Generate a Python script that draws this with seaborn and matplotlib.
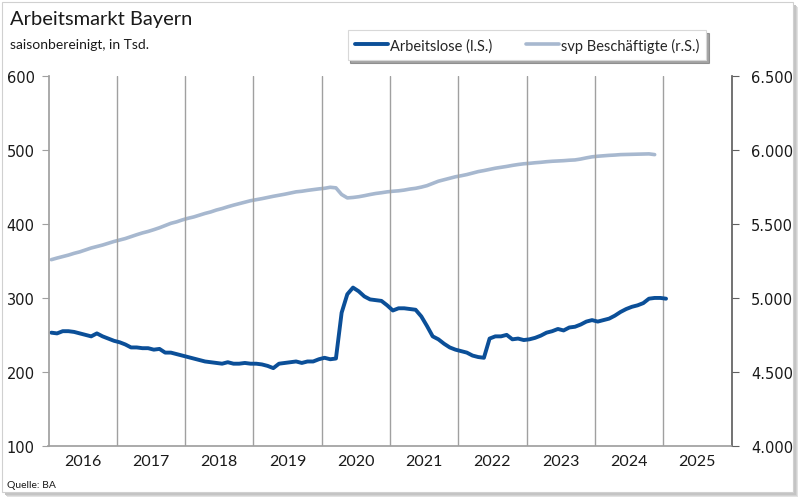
import matplotlib
matplotlib.use('Agg')
import matplotlib.pyplot as plt
import matplotlib.patches as mpatches
from matplotlib.lines import Line2D
from matplotlib.ticker import FuncFormatter, FixedLocator, NullFormatter
import seaborn as sns
import numpy as np
import pandas as pd

# monthly values, Jan 2016 onwards (in Tsd.)
arbeitslose = [
    253, 252, 255, 255, 254, 252, 250, 248, 252, 248, 245, 242,   # 2016
    240, 237, 233, 233, 232, 232, 230, 231, 226, 226, 224, 222,   # 2017
    220, 218, 216, 214, 213, 212, 211, 213, 211, 211, 212, 211,   # 2018
    211, 210, 208, 205, 211, 212, 213, 214, 212, 214, 214, 217,   # 2019
    219, 217, 218, 280, 305, 314, 309, 302, 298, 297, 296, 290,   # 2020
    283, 286, 286, 285, 284, 275, 262, 248, 244, 238, 233, 230,   # 2021
    228, 226, 222, 220, 219, 245, 248, 248, 250, 244, 245, 243,   # 2022
    244, 246, 249, 253, 255, 258, 256, 260, 261, 264, 268, 270,   # 2023
    268, 270, 272, 276, 281, 285, 288, 290, 293, 299, 300, 300,   # 2024
    299,                                                          # 2025
]
beschaeftigte = [
    5259, 5270, 5280, 5290, 5302, 5312, 5325, 5338, 5348, 5358, 5370, 5382,
    5392, 5402, 5415, 5428, 5440, 5450, 5462, 5475, 5490, 5505, 5515, 5528,
    5539, 5548, 5560, 5572, 5582, 5595, 5605, 5617, 5628, 5638, 5648, 5658,
    5665, 5672, 5680, 5688, 5695, 5702, 5710, 5718, 5722, 5728, 5733, 5738,
    5742, 5749, 5745, 5700, 5677, 5680, 5685, 5692, 5700, 5707, 5712, 5718,
    5722, 5725, 5730, 5737, 5742, 5750, 5760, 5775, 5790, 5800, 5810, 5820,
    5827, 5835, 5845, 5855, 5862, 5870, 5878, 5884, 5890, 5897, 5903, 5908,
    5911, 5915, 5918, 5922, 5925, 5927, 5929, 5932, 5934, 5940, 5948, 5955,
    5959, 5962, 5965, 5967, 5970, 5971, 5972, 5973, 5974, 5975, 5970,
]
years = list(range(2016, 2026))
start_year = 2016

dark_blue = '#0B4F98'
light_blue = '#A7B8CF'
grid_grey = '#A0A0A0'

df_al = pd.DataFrame({'t': start_year + (np.arange(len(arbeitslose)) + 0.5) / 12,
                      'wert': arbeitslose})
df_sv = pd.DataFrame({'t': start_year + (np.arange(len(beschaeftigte)) + 0.5) / 12,
                      'wert': beschaeftigte})

sns.set_theme(style='white')
plt.rcParams['font.family'] = ['Lato', 'DejaVu Sans']

fig = plt.figure(figsize=(8, 5.02), dpi=100)

# outer frame with soft shadow
for off, col in [(5, '#E2E2E2'), (4, '#D2D2D2'), (3, '#C4C4C4')]:
    fig.patches.append(mpatches.Rectangle(((2 + off) / 800, 1 - (493 + off) / 502),
                                          791 / 800, 490 / 502,
                                          transform=fig.transFigure, facecolor=col,
                                          edgecolor='none', zorder=-3))
fig.patches.append(mpatches.Rectangle((2 / 800, 1 - 493 / 502), 791 / 800, 490 / 502,
                                      transform=fig.transFigure, facecolor='white',
                                      edgecolor='#D0D0D0', linewidth=0.8, zorder=-1))

ax = fig.add_axes([48.5 / 800, 1 - 446.7 / 502, 683 / 800, 369.4 / 502])
ax.patch.set_alpha(0)
ax2 = ax.twinx()

sns.lineplot(data=df_sv, x='t', y='wert', ax=ax2, color=light_blue, linewidth=2.6)
sns.lineplot(data=df_al, x='t', y='wert', ax=ax, color=dark_blue, linewidth=2.8)
ax.set_zorder(ax2.get_zorder() + 1)

ax.set_xlim(2016, 2026)
ax.set_ylim(100, 600)
ax2.set_ylim(4000, 6500)
ax.set_yticks(range(100, 601, 100))
ax2.set_yticks(range(4000, 6501, 500))
ax2.yaxis.set_major_formatter(FuncFormatter(lambda v, p: f'{int(v):,}'.replace(',', '.')))

ax.xaxis.set_major_locator(FixedLocator(range(2016, 2027)))
ax.xaxis.set_major_formatter(NullFormatter())
ax.xaxis.set_minor_locator(FixedLocator([y + 0.5 for y in years]))
ax.set_xticklabels([str(y) for y in years], minor=True)
ax.tick_params(axis='x', which='minor', length=0, pad=6, labelsize=11.5, colors='#1a1a1a')
ax.tick_params(axis='x', which='major', direction='out', length=5, width=0.8, color=grid_grey)

for y in range(2017, 2026):
    ax.axvline(y, color=grid_grey, linewidth=1.0, zorder=0)

ax.set_xlabel('')
ax.set_ylabel('')
ax2.set_ylabel('')

for a in (ax, ax2):
    for s in a.spines.values():
        s.set_visible(False)
ax.spines['left'].set_visible(True)
ax.spines['bottom'].set_visible(True)
ax.spines['left'].set_color(grid_grey)
ax.spines['bottom'].set_color(grid_grey)
ax2.spines['right'].set_visible(True)
ax2.spines['right'].set_color('#606060')

ax.tick_params(axis='y', direction='out', length=5, width=0.8, color=grid_grey,
               labelsize=10.5, pad=5, labelcolor='#1a1a1a',
               labelfontfamily='DejaVu Sans')
ax2.tick_params(axis='y', direction='out', length=5, width=0.8, color='#606060',
                labelsize=10.5, pad=9, labelcolor='#1a1a1a',
                labelfontfamily='DejaVu Sans')

fig.text(10 / 800, 1 - 20 / 502, 'Arbeitsmarkt Bayern', fontsize=14.5, va='center',
         ha='left', color='#1a1a1a')
fig.text(10 / 800, 1 - 45 / 502, 'saisonbereinigt, in Tsd.', fontsize=10, va='center',
         ha='left', color='#1a1a1a')
fig.text(7 / 800, 1 - 486 / 502, 'Quelle: BA', fontsize=7.5, va='center', ha='left',
         color='#1a1a1a')

handles = [Line2D([], [], color=dark_blue, linewidth=2.8),
           Line2D([], [], color=light_blue, linewidth=2.6)]
leg = fig.legend(handles, ['Arbeitslose (l.S.)', 'svp Beschäftigte (r.S.)'],
                 loc='center', bbox_to_anchor=(527 / 800, 1 - 46 / 502), ncol=2,
                 frameon=True, fancybox=False, shadow=True, fontsize=10.5,
                 handlelength=2.3, handletextpad=0.1, columnspacing=2.3,
                 borderpad=0.5)
leg.get_frame().set_edgecolor('#D8D8D8')
leg.get_frame().set_linewidth(0.8)

fig.savefig('out.png', dpi=100)
